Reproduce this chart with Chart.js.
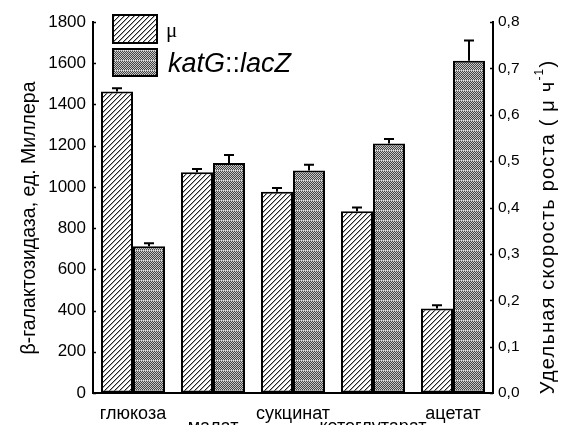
<!DOCTYPE html>
<html>
<head>
<meta charset="utf-8">
<script src="https://cdn.jsdelivr.net/npm/chart.js@4.4.1/dist/chart.umd.min.js"></script>
<style>
  html, body { margin: 0; padding: 0; background: #fff; overflow: hidden; }
  #wrap { width: 568px; height: 425px; position: relative; }
</style>
</head>
<body>
<div id="wrap"><canvas id="chart"></canvas></div>
<script>
// substrates on the x axis
const substrates = ['глюкоза', 'малат', 'сукцинат', 'кетоглутарат', 'ацетат'];
// specific growth rate (right axis, ч-1)
const muValues = [0.650, 0.476, 0.434, 0.392, 0.182];
const muErrors = [0.007, 0.007, 0.008, 0.008, 0.007];
// beta-galactosidase activity, Miller units (left axis)
const lacZValues = [712, 1116, 1080, 1210, 1612];
const lacZErrors = [14, 39, 28, 22, 98];

const FONT = 'Arial, "Liberation Sans", sans-serif';

const canvas = document.getElementById('chart');
const ctx = canvas.getContext('2d');

// diagonal hatch for the growth-rate bars
function makeHatch() {
  const t = document.createElement('canvas');
  t.width = 5; t.height = 5;
  const g = t.getContext('2d');
  g.fillStyle = '#fff';
  g.fillRect(0, 0, 5, 5);
  for (let i = 0; i < 5; i++) {
    g.fillStyle = '#222';
    g.fillRect(i, 4 - i, 1, 1);
    g.fillStyle = '#a8a8a8';
    g.fillRect(i, (5 - i) % 5, 1, 1);
  }
  return ctx.createPattern(t, 'repeat');
}

// fine checker with light rows for katG::lacZ
function makeChecker() {
  const t = document.createElement('canvas');
  t.width = 10; t.height = 10;
  const g = t.getContext('2d');
  for (let y = 0; y < 10; y++) {
    for (let x = 0; x < 10; x++) {
      if (y === 0) g.fillStyle = (x % 2) ? '#e6e6e6' : '#a0a0a0';
      else g.fillStyle = ((x + y) % 2) ? '#444' : '#c8c8c8';
      g.fillRect(x, y, 1, 1);
    }
  }
  return ctx.createPattern(t, 'repeat');
}

const hatch = makeHatch();
const checker = makeChecker();

const errorBars = {
  id: 'errorBars',
  afterDatasetsDraw(chart) {
    const c = chart.ctx;
    chart.data.datasets.forEach((ds, di) => {
      const meta = chart.getDatasetMeta(di);
      const sc = chart.scales[ds.yAxisID];
      meta.data.forEach((bar, i) => {
        const top = sc.getPixelForValue(ds.data[i] + ds.errors[i]);
        c.save();
        c.strokeStyle = '#000';
        c.lineWidth = 2;
        c.beginPath();
        c.moveTo(bar.x, bar.y);
        c.lineTo(bar.x, top);
        c.moveTo(bar.x - 5, top);
        c.lineTo(bar.x + 5, top);
        c.stroke();
        c.restore();
      });
    });
  }
};

// inward tick marks, legend and axis titles
const decorations = {
  id: 'decorations',
  afterDraw(chart) {
    const c = chart.ctx;
    const area = chart.chartArea;
    c.save();
    c.strokeStyle = '#000';
    c.lineWidth = 1.5;
    ['y', 'y1'].forEach(id => {
      const sc = chart.scales[id];
      const x0 = id === 'y' ? area.left : area.right;
      const dir = id === 'y' ? 1 : -1;
      sc.ticks.forEach(t => {
        const py = Math.round(sc.getPixelForValue(t.value)) + 0.5;
        c.beginPath();
        c.moveTo(x0, py);
        c.lineTo(x0 + dir * 3, py);
        c.stroke();
      });
    });

    // legend
    c.lineWidth = 2;
    c.fillStyle = hatch;
    c.fillRect(113, 15, 44, 28);
    c.strokeRect(113, 15, 44, 28);
    c.fillStyle = checker;
    c.fillRect(113, 49, 44, 27);
    c.strokeRect(113, 49, 44, 27);
    c.fillStyle = '#000';
    c.textBaseline = 'alphabetic';
    c.textAlign = 'left';
    c.font = '21px "Liberation Serif", serif';
    c.fillText('μ', 166, 37);
    let x = 168;
    const parts = [['katG', 'italic'], ['::', 'normal'], ['lacZ', 'italic']];
    parts.forEach(([s, st]) => {
      c.font = st + ' 27px ' + FONT;
      c.fillText(s, x, 72);
      x += c.measureText(s).width;
    });

    // left title
    c.save();
    c.translate(30, 218);
    c.rotate(-Math.PI / 2);
    c.textAlign = 'center';
    c.textBaseline = 'middle';
    c.font = '19.5px ' + FONT;
    c.fillText('β-галактозидаза, ед. Миллера', 0, 0);
    c.restore();

    // right title with superscript
    c.save();
    c.translate(548, 227);
    c.rotate(-Math.PI / 2);
    c.textBaseline = 'middle';
    c.textAlign = 'left';
    c.letterSpacing = '1.2px';
    const main = 'Удельная скорость роста ( μ ч';
    const sup = '-1';
    const tail = ')';
    c.font = '20px ' + FONT;
    const w1 = c.measureText(main).width;
    const w3 = c.measureText(tail).width;
    c.font = '12px ' + FONT;
    const w2 = c.measureText(sup).width;
    let sx = -(w1 + w2 + w3) / 2;
    c.font = '20px ' + FONT;
    c.fillText(main, sx, 0);
    sx += w1;
    c.font = '12px ' + FONT;
    c.fillText(sup, sx, -8);
    sx += w2;
    c.font = '20px ' + FONT;
    c.fillText(tail, sx, 0);
    c.restore();
    c.restore();
  }
};

new Chart(ctx, {
  type: 'bar',
  data: {
    labels: substrates,
    datasets: [
      {
        label: 'μ',
        data: muValues,
        errors: muErrors,
        yAxisID: 'y1',
        backgroundColor: hatch,
        borderColor: '#000',
        borderWidth: 2,
        borderSkipped: false,
        categoryPercentage: 0.8,
        barPercentage: 1.0
      },
      {
        label: 'katG::lacZ',
        data: lacZValues,
        errors: lacZErrors,
        yAxisID: 'y',
        backgroundColor: checker,
        borderColor: '#000',
        borderWidth: 2,
        borderSkipped: false,
        categoryPercentage: 0.8,
        barPercentage: 1.0
      }
    ]
  },
  options: {
    responsive: true,
    maintainAspectRatio: false,
    animation: false,
    layout: { padding: { top: 22, left: 0, right: 0, bottom: 0 } },
    plugins: {
      legend: { display: false },
      tooltip: { enabled: false }
    },
    scales: {
      x: {
        grid: { display: false },
        border: { display: true, color: '#000', width: 2 },
        ticks: {
          color: '#000',
          autoSkip: false,
          maxRotation: 0,
          padding: 6,
          font: { family: FONT, size: 18, lineHeight: 0.75 },
          callback: (v, i) => (i % 2 ? ['', substrates[i]] : substrates[i])
        },
        afterFit: s => { s.height = 32; }
      },
      y: {
        position: 'left',
        min: 0,
        max: 1800,
        grid: { drawOnChartArea: false, drawTicks: false },
        border: { display: true, color: '#000', width: 2 },
        ticks: {
          stepSize: 200,
          color: '#000',
          padding: 7,
          font: { family: FONT, size: 17 },
          callback: v => String(v)
        },
        afterFit: s => { s.width = 93; }
      },
      y1: {
        position: 'right',
        min: 0,
        max: 0.8,
        grid: { drawOnChartArea: false, drawTicks: false },
        border: { display: true, color: '#000', width: 2 },
        ticks: {
          stepSize: 0.1,
          color: '#000',
          padding: 5,
          font: { family: FONT, size: 15.5 },
          callback: v => v.toFixed(1).replace('.', ',')
        },
        afterFit: s => { s.width = 75; }
      }
    }
  },
  plugins: [errorBars, decorations]
});
</script>
</body>
</html>
